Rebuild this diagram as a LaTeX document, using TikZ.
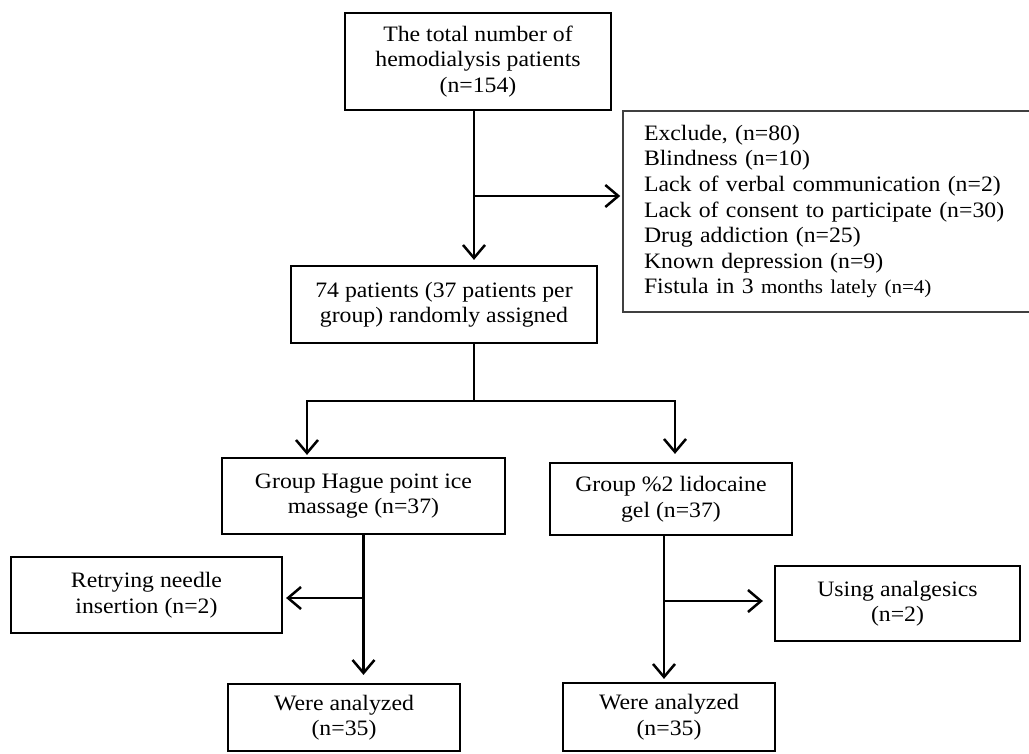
\documentclass[tikz,border=0pt]{standalone}
\usepackage{fontspec}
\setmainfont{Liberation Serif}[FakeStretch=1.08]
\usetikzlibrary{arrows.meta}
\begin{document}
\begin{tikzpicture}[x=1pt,y=-1pt,
  box/.style={draw=black, line width=2.2pt, inner sep=0pt, align=center,
    font=\fontsize{22}{25.5}\selectfont},
  exbox/.style={draw=black!75, line width=1.5pt, inner xsep=21pt, inner ysep=0pt,
    text width=375pt, align=left, font=\fontsize{22}{25.6}\selectfont},
  ln/.style={line width=2.5pt},
  arr/.style={line width=2.5pt, -{Straight Barb[length=13pt,width=22pt,line width=2.5pt]}}]
\useasboundingbox (0,0) rectangle (1029,754);
\fill[white] (0,0) rectangle (1029,754);

\node[box, minimum width=266pt, minimum height=97pt] (b1) at (478,61.5)
  {The total number of\\hemodialysis patients\\(n=154)};
\node[exbox, minimum height=201pt] (ex) at (831.5,211.5)
  {Exclude, (n=80)\\Blindness (n=10)\\Lack of verbal communication (n=2)\\Lack of consent to participate (n=30)\\Drug addiction (n=25)\\Known depression (n=9)\\Fistula in 3 {\fontsize{19.5}{25.6}\selectfont months lately (n=4)}};
\node[box, minimum width=306pt, minimum height=77pt] (b2) at (444,304.5)
  {74 patients (37 patients per\\group) randomly assigned};
\node[box, minimum width=283pt, minimum height=76pt] (b3) at (363.5,496)
  {Group Hague point ice\\massage (n=37)};
\node[box, minimum width=242pt, minimum height=72pt] (b4) at (671,499)
  {Group \%2 lidocaine\\gel (n=37)};
\node[box, minimum width=271pt, minimum height=76pt] (rt) at (146.5,595)
  {Retrying needle\\insertion (n=2)};
\node[box, minimum width=245pt, minimum height=75pt] (an) at (897.5,603.5)
  {Using analgesics\\(n=2)};
\node[box, minimum width=232pt, minimum height=67pt] (b5) at (344,717.5)
  {Were analyzed\\(n=35)};
\node[box, minimum width=212pt, minimum height=68pt] (b6) at (669,717)
  {Were analyzed\\(n=35)};

\coordinate (j1) at (474,196);
\draw[arr, shorten >=5pt] (b1.south -| j1) -- (b2.north -| j1);
\draw[arr, shorten >=2pt] (j1) -- (j1 -| ex.west);

\coordinate (j2) at (474,401);
\coordinate (cl) at (307,401);
\coordinate (cr) at (675,401);
\draw[ln] (b2.south -| j2) -- (j2);
\draw[arr, shorten >=2pt] (j2) -- (cl) -- (cl |- b3.north);
\draw[arr, shorten >=8pt] (j2) -- (cr) -- (cr |- b4.north);

\coordinate (r1) at (363,598);
\draw[arr, shorten >=8pt] (b3.south) -- (b3.south |- b5.north);
\draw[arr, shorten >=3pt] (r1) -- (r1 -| rt.east);

\coordinate (v4) at (664,601);
\draw[arr, shorten >=3pt] (b4.south -| v4) -- (b6.north -| v4);
\draw[arr, shorten >=11pt] (v4) -- (v4 -| an.west);
\end{tikzpicture}
\end{document}
